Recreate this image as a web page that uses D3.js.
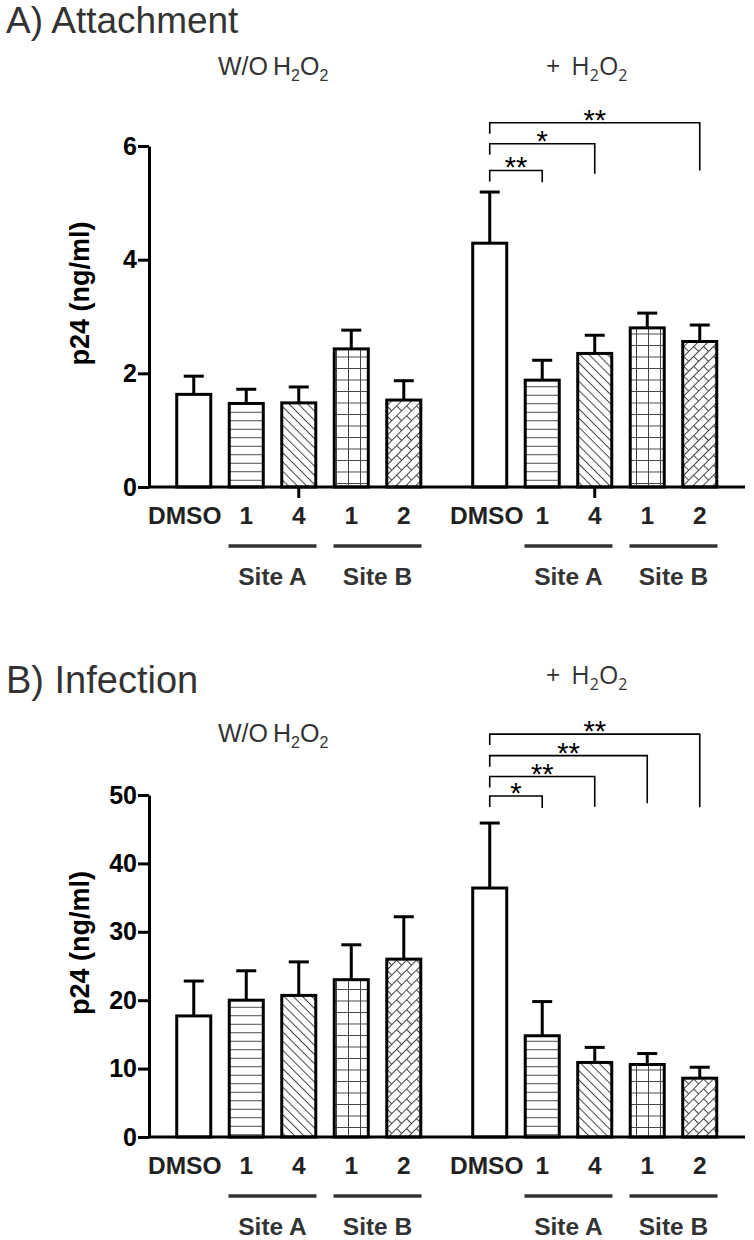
<!DOCTYPE html>
<html><head><meta charset="utf-8">
<script src="https://cdn.jsdelivr.net/npm/d3@7"></script>
<style>body{margin:0;background:#fff} svg{display:block}</style>
</head><body>
<svg id="c" width="754" height="1240"></svg>
<script>
// ---------- data ----------
const groups = ["noH2O2", "H2O2"];
const treatments = ["DMSO", "A1", "A4", "B1", "B2"];
const tickLabels = ["DMSO", "1", "4", "1", "2"];
const patterns = ["none", "hlines", "diag", "grid", "brick"];
const sites = ["Site A", "Site B"];

const attachNoH2O2 = [1.63, 1.47, 1.48, 2.43, 1.53];
const attachNoH2O2Err = [0.32, 0.25, 0.28, 0.33, 0.34];
const attachH2O2 = [4.29, 1.88, 2.35, 2.80, 2.56];
const attachH2O2Err = [0.90, 0.35, 0.32, 0.26, 0.29];

const infectNoH2O2 = [17.7, 20.0, 20.7, 23.0, 26.0];
const infectNoH2O2Err = [5.1, 4.3, 4.9, 5.1, 6.2];
const infectH2O2 = [36.4, 14.8, 10.9, 10.6, 8.6];
const infectH2O2Err = [9.5, 5.0, 2.2, 1.6, 1.6];

const attachTicks = [0, 2, 4, 6];
const infectTicks = [0, 10, 20, 30, 40, 50];

// significance brackets (DMSO + H2O2 vs target)
const attachSigTarget = [1, 2, 4];
const attachSigLevel = [5.57, 6.04, 6.41];
const attachSigEnd = [5.36, 5.51, 5.57];
const attachSigLabel = ["**", "*", "**"];

const infectSigTarget = [1, 2, 3, 4];
const infectSigLevel = [49.85, 52.7, 55.75, 58.9];
const infectSigEnd = [48.1, 48.3, 48.8, 48.2];
const infectSigLabel = ["*", "**", "**", "**"];

// ---------- setup ----------
const svg = d3.select("#c");
const defs = svg.append("defs");
const patStroke = "#444";
function mkPattern(id, w, h, d, rot) {
  const p = defs.append("pattern").attr("id", id)
    .attr("patternUnits", "userSpaceOnUse").attr("width", w).attr("height", h);
  if (rot) p.attr("patternTransform", `rotate(${rot})`);
  p.append("rect").attr("width", w).attr("height", h).attr("fill", "#fff");
  p.append("path").attr("d", d).attr("stroke", patStroke).attr("stroke-width", 1).attr("fill", "none");
}
mkPattern("hlines", 10, 8.5, "M0,4.25H10", 0);
mkPattern("diag", 10, 6.5, "M0,3.25H10", 45);
mkPattern("grid", 12, 11.5, "M0,0.5H12M0.5,0V11.5", 0);
mkPattern("brick", 14, 14, "M0,0.5H14M0,7.5H14M0.5,0V7.5M7.5,7.5V14", -45);

const xOuter = d3.scaleBand().domain(groups).range([167.5, 726]).paddingInner(0.113).paddingOuter(0);
const xInner = d3.scaleBand().domain(treatments).range([0, xOuter.bandwidth()])
  .paddingInner(0.352).paddingOuter(0.176);

const fontBold = "'Liberation Sans', Arial, sans-serif";
const axisX = 149;

function chemLabel(g, x, y, prefix, family, size, subSize, gap) {
  const t = g.append("text").attr("x", x).attr("y", y)
    .attr("font-family", family).attr("font-size", size).attr("fill", "#333");
  t.append("tspan").text(prefix);
  t.append("tspan").attr("dx", gap).text("H");
  t.append("tspan").attr("font-size", subSize).attr("dy", 6).text("2");
  t.append("tspan").attr("dy", -6).text("O");
  t.append("tspan").attr("font-size", subSize).attr("dy", 6).text("2");
}

function panel(cfg) {
  const y = d3.scaleLinear().domain(cfg.domain).range(cfg.range);
  const g = svg.append("g");
  const y0 = y(0);

  // titles
  g.append("text").attr("x", 6).attr("y", cfg.titleY)
    .attr("font-family", "'Liberation Sans', Arial, sans-serif").attr("font-size", cfg.titleSize)
    .attr("fill", "#333").text(cfg.title);

  chemLabel(g, 218, cfg.woY, "W/O", "'Liberation Sans', Arial, sans-serif", 25, 16, 5);
  chemLabel(g, 546, cfg.plusY, "+", "'Open Sans', sans-serif", 25, 16, 11);

  // bars
  const series = [cfg.v0, cfg.v1];
  const errs = [cfg.e0, cfg.e1];
  groups.forEach((grp, gi) => {
    const gx = xOuter(grp);
    treatments.forEach((t, i) => {
      const v = series[gi][i], e = errs[gi][i];
      const bx = gx + xInner(t), bw = xInner.bandwidth(), cx = bx + bw / 2;
      // error bar
      g.append("line").attr("x1", cx).attr("x2", cx).attr("y1", y(v)).attr("y2", y(v + e))
        .attr("stroke", "#000").attr("stroke-width", 3);
      g.append("line").attr("x1", cx - 10).attr("x2", cx + 10).attr("y1", y(v + e)).attr("y2", y(v + e))
        .attr("stroke", "#000").attr("stroke-width", 3);
      g.append("rect").attr("x", bx).attr("y", y(v)).attr("width", bw).attr("height", y0 - y(v))
        .attr("fill", patterns[i] === "none" ? "#fff" : `url(#${patterns[i]})`)
        .attr("stroke", "#000").attr("stroke-width", 3);
      // category label
      g.append("text").attr("x", cx + (i === 0 ? (gi === 0 ? -9 : -3) : 0)).attr("y", y0 + 37)
        .attr("text-anchor", "middle").attr("font-family", fontBold).attr("font-weight", "bold")
        .attr("font-size", 24.5).attr("fill", "#222").text(tickLabels[i]);
    });
    // site underline and labels
    sites.forEach((s, si) => {
      const a = treatments[1 + si * 2], b = treatments[2 + si * 2];
      const mid = gx + (xInner(a) + xInner(b) + xInner.bandwidth()) / 2;
      g.append("line").attr("x1", mid - 44).attr("x2", mid + 44).attr("y1", y0 + 59).attr("y2", y0 + 59)
        .attr("stroke", "#333").attr("stroke-width", 3.5);
      g.append("text").attr("x", mid).attr("y", y0 + 98).attr("text-anchor", "middle")
        .attr("font-family", fontBold).attr("font-weight", "bold").attr("font-size", 24.5)
        .attr("fill", "#333").text(s);
    });
    if (cfg.groupTicks) {
      const c = gx + xOuter.bandwidth() / 2;
      g.append("line").attr("x1", c).attr("x2", c).attr("y1", y0).attr("y2", y0 + 11)
        .attr("stroke", "#000").attr("stroke-width", 3);
    }
  });

  // x baseline
  g.append("line").attr("x1", axisX).attr("x2", 745).attr("y1", y0).attr("y2", y0)
    .attr("stroke", "#000").attr("stroke-width", 3);

  // y axis
  const ax = g.append("g").attr("transform", `translate(${axisX},0)`)
    .call(d3.axisLeft(y).tickValues(cfg.ticks).tickFormat(d3.format("d"))
      .tickSize(11).tickSizeOuter(0).tickPadding(1));
  ax.select(".domain").attr("stroke", "#000").attr("stroke-width", 3);
  ax.selectAll(".tick line").attr("stroke", "#000").attr("stroke-width", 3);
  ax.selectAll(".tick text").attr("font-family", fontBold).attr("font-weight", "bold")
    .attr("font-size", 25).attr("fill", "#000");

  // y label
  const ly = (cfg.range[0] + cfg.range[1]) / 2 - 23;
  g.append("text").attr("transform", `translate(89,${ly}) rotate(-90)`)
    .attr("text-anchor", "middle").attr("font-family", fontBold).attr("font-weight", "bold")
    .attr("font-size", 27).attr("fill", "#000").text("p24 (ng/ml)");

  // significance brackets
  const gx2 = xOuter(groups[1]);
  const cxOf = i => gx2 + xInner(treatments[i]) + xInner.bandwidth() / 2;
  cfg.sigT.forEach((t, k) => {
    const xl = cxOf(0), xr = cxOf(t), yl = y(cfg.sigL[k]);
    g.append("path").attr("d", `M${xl},${yl + 11}V${yl}H${xr}V${y(cfg.sigE[k])}`)
      .attr("fill", "none").attr("stroke", "#000").attr("stroke-width", 1.6);
    g.append("text").attr("x", (xl + xr) / 2).attr("y", yl + 7).attr("text-anchor", "middle")
      .attr("font-family", fontBold).attr("font-size", 29).attr("fill", "#000").text(cfg.sigLab[k]);
  });
}

panel({
  domain: [0, 6], range: [487, 146], ticks: attachTicks,
  v0: attachNoH2O2, e0: attachNoH2O2Err, v1: attachH2O2, e1: attachH2O2Err,
  title: "A) Attachment", titleY: 33, titleSize: 37, woY: 75, plusY: 75, groupTicks: true,
  sigT: attachSigTarget, sigL: attachSigLevel, sigE: attachSigEnd, sigLab: attachSigLabel
});
panel({
  domain: [0, 50], range: [1137, 795], ticks: infectTicks,
  v0: infectNoH2O2, e0: infectNoH2O2Err, v1: infectH2O2, e1: infectH2O2Err,
  title: "B) Infection", titleY: 693, titleSize: 38, woY: 742, plusY: 684, groupTicks: false,
  sigT: infectSigTarget, sigL: infectSigLevel, sigE: infectSigEnd, sigLab: infectSigLabel
});
</script>
</body></html>
